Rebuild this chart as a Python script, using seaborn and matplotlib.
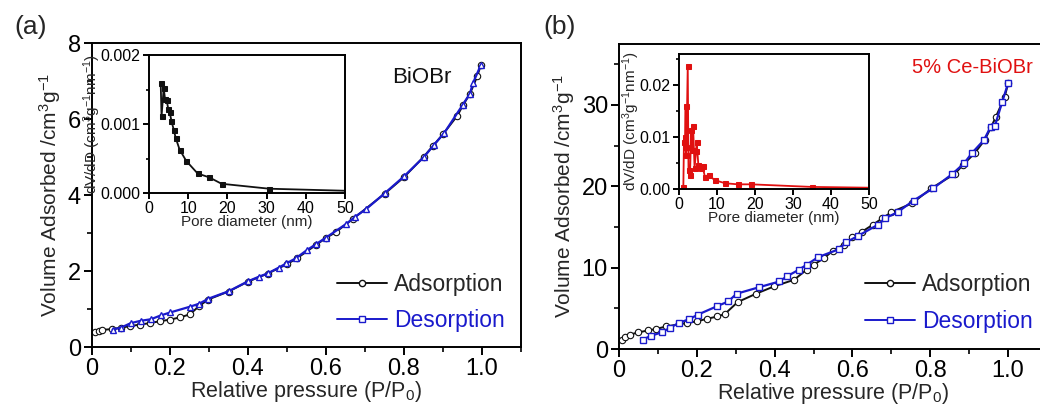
import matplotlib
matplotlib.use("Agg")
import matplotlib.pyplot as plt
from matplotlib.lines import Line2D
from matplotlib.ticker import MultipleLocator
import seaborn as sns

# ---- (a) BiOBr isotherm ----
a_ads_p = [0.008, 0.017, 0.025, 0.05, 0.075, 0.098, 0.123, 0.149, 0.175, 0.2, 0.226,
           0.251, 0.275, 0.298, 0.35, 0.4, 0.45, 0.5, 0.525, 0.575, 0.6, 0.625, 0.67,
           0.75, 0.8, 0.85, 0.875, 0.9, 0.937, 0.951, 0.969, 0.988, 0.997]
a_ads_v = [0.40, 0.43, 0.45, 0.47, 0.51, 0.55, 0.59, 0.63, 0.68, 0.72, 0.78,
           0.86, 1.08, 1.25, 1.46, 1.72, 1.93, 2.18, 2.33, 2.69, 2.87, 3.02, 3.38,
           4.03, 4.47, 5.00, 5.30, 5.60, 6.09, 6.36, 6.66, 7.13, 7.42]
a_des_p = [0.053, 0.074, 0.1, 0.125, 0.151, 0.176, 0.201, 0.251, 0.275, 0.298, 0.351,
           0.4, 0.428, 0.451, 0.479, 0.498, 0.522, 0.551, 0.575, 0.6, 0.652, 0.675,
           0.703, 0.751, 0.8, 0.852, 0.877, 0.903, 0.951, 0.969, 0.977, 0.997]
a_des_v = [0.46, 0.51, 0.63, 0.69, 0.73, 0.83, 0.91, 1.06, 1.14, 1.27, 1.47,
           1.73, 1.85, 1.94, 2.09, 2.20, 2.33, 2.55, 2.71, 2.88, 3.24, 3.43,
           3.63, 4.05, 4.49, 5.01, 5.32, 5.63, 6.38, 6.67, 6.95, 7.42]

# ---- (a) inset: pore size distribution ----
a_pore_d = [2.98, 3.2, 3.75, 4.1, 4.5, 4.9, 5.3, 5.7, 6.3, 6.8, 7.8, 9.5, 12.4,
            15.4, 18.5, 30.7]
a_pore_v = [0.00160, 0.00111, 0.00152, 0.00136, 0.00135, 0.00122, 0.00117, 0.00105,
            0.00092, 0.00080, 0.00063, 0.000465, 0.000283, 0.000226, 0.000134,
            0.000062]
a_tail_d = [30.7, 55.0]
a_tail_v = [0.000062, 0.000025]

# ---- (b) 5% Ce-BiOBr isotherm ----
b_ads_p = [0.007, 0.016, 0.027, 0.05, 0.075, 0.095, 0.122, 0.174, 0.2, 0.227, 0.253,
           0.272, 0.305, 0.352, 0.398, 0.45, 0.482, 0.5, 0.527, 0.55, 0.577, 0.6,
           0.625, 0.652, 0.677, 0.7, 0.754, 0.803, 0.863, 0.884, 0.914, 0.94,
           0.957, 0.968, 0.991, 1.0]
b_ads_v = [1.06, 1.47, 1.76, 2.04, 2.29, 2.46, 2.78, 3.19, 3.40, 3.72, 4.00,
           4.30, 5.77, 6.79, 7.69, 8.51, 9.74, 10.35, 11.17, 12.10, 12.80, 13.75,
           14.44, 15.27, 16.08, 16.82, 17.93, 19.77, 21.53, 22.63, 24.07, 25.70,
           27.34, 28.49, 30.95, 32.67]
b_des_p = [0.061, 0.082, 0.11, 0.13, 0.153, 0.181, 0.202, 0.251, 0.281, 0.302, 0.361,
           0.412, 0.431, 0.462, 0.482, 0.512, 0.566, 0.583, 0.615, 0.665, 0.684,
           0.716, 0.757, 0.808, 0.857, 0.887, 0.908, 0.938, 0.955, 0.966, 0.985, 1.0]
b_des_v = [1.14, 1.63, 2.04, 2.58, 3.19, 3.68, 4.21, 5.24, 5.85, 6.79, 7.61,
           8.30, 8.92, 9.74, 10.35, 11.30, 12.28, 13.10, 13.92, 15.27, 16.08,
           16.82, 18.25, 19.77, 21.53, 22.84, 24.14, 25.70, 27.30, 27.42, 30.40, 32.67]

# ---- (b) inset: pore size distribution ----
b_pore_d = [1.14, 1.3, 1.6, 1.75, 1.85, 1.95, 2.3, 2.5, 2.9, 3.2, 3.4, 3.7, 4.1,
            4.5, 4.65, 5.1, 5.7, 6.2, 6.8, 7.8, 9.4, 12.2, 15.5, 19.0, 34.9]
b_pore_v = [0.0003, 0.0090, 0.0100, 0.0160, 0.0065, 0.0081, 0.0237, 0.0036, 0.0027,
            0.0113, 0.0075, 0.0122, 0.0040, 0.0074, 0.0090, 0.0046, 0.0040, 0.0044,
            0.0024, 0.0027, 0.0017, 0.0011, 0.0009, 0.0009, 0.0004]
b_tail_d = [34.9, 55.0]
b_tail_v = [0.0004, 0.0002]

BLACK = "#111111"
BLUE = "#1a1acc"
RED = "#e01010"

sns.set_theme(style="ticks")
plt.rcParams["font.family"] = ["Liberation Sans", "DejaVu Sans"]
plt.rcParams["mathtext.fontset"] = "custom"
plt.rcParams["mathtext.rm"] = "Liberation Sans"
plt.rcParams["mathtext.it"] = "Liberation Sans"
plt.rcParams["axes.linewidth"] = 1.4
plt.rcParams["xtick.major.width"] = 1.4
plt.rcParams["ytick.major.width"] = 1.4
plt.rcParams["xtick.minor.width"] = 1.2
plt.rcParams["ytick.minor.width"] = 1.2

fig = plt.figure(figsize=(10.4, 4.08), dpi=100)
fig.patch.set_facecolor("white")


def style_axes(ax, labelsize, major_len, minor_len):
    for s in ax.spines.values():
        s.set_color("black")
    ax.tick_params(which="both", direction="out", top=False, right=False,
                   colors="black", labelsize=labelsize, pad=2)
    ax.tick_params(which="major", length=major_len)
    ax.tick_params(which="minor", length=minor_len)
    ax.set_facecolor("white")


def isotherm(ax, ads_p, ads_v, des_p, des_v, des_marker, ylim, ymaj, ymin_):
    sns.lineplot(x=ads_p, y=ads_v, ax=ax, sort=False, estimator=None, color=BLACK,
                 linewidth=1.4, marker="o", markersize=4.6, markerfacecolor="white",
                 markeredgecolor=BLACK, markeredgewidth=0.8, legend=False)
    sns.lineplot(x=des_p, y=des_v, ax=ax, sort=False, estimator=None, color=BLUE,
                 linewidth=1.6, marker=des_marker, markersize=4.6,
                 markerfacecolor="white", markeredgecolor=BLUE,
                 markeredgewidth=1.0, legend=False)
    ax.set_xlim(0, 1.1)
    ax.set_ylim(*ylim)
    ax.xaxis.set_major_locator(MultipleLocator(0.2))
    ax.xaxis.set_minor_locator(MultipleLocator(0.1))
    ax.yaxis.set_major_locator(MultipleLocator(ymaj))
    ax.yaxis.set_minor_locator(MultipleLocator(ymin_))
    ax.set_xticks([0, 0.2, 0.4, 0.6, 0.8, 1.0])
    ax.set_xticklabels(["0", "0.2", "0.4", "0.6", "0.8", "1.0"])
    style_axes(ax, 17, 6, 3.5)
    ax.set_xlabel("Relative pressure (P/P$_0$)", fontsize=15.5, labelpad=-1)
    ax.set_ylabel("Volume Adsorbed /cm$^3$g$^{-1}$", fontsize=15, labelpad=3)
    handles = [
        Line2D([], [], color=BLACK, lw=1.4, marker="o", markersize=4.5,
               markerfacecolor="white", markeredgecolor=BLACK),
        Line2D([], [], color=BLUE, lw=1.4, marker="s", markersize=4,
               markerfacecolor="white", markeredgecolor=BLUE),
    ]
    leg = ax.legend(handles, ["Adsorption", "Desorption"], loc="lower right",
                    frameon=False, fontsize=16.5, handlelength=2.2, handletextpad=0.3,
                    labelspacing=0.6, borderaxespad=0.3)
    leg.get_texts()[1].set_color(BLUE)
    return leg


def inset(ax, d, v, tail_d, tail_v, color, ylim, ymaj, ymin_, fmt):
    sns.lineplot(x=d, y=v, ax=ax, sort=False, estimator=None, color=color,
                 linewidth=1.3, marker="s", markersize=3.6, markeredgecolor=color,
                 markerfacecolor=color, legend=False)
    sns.lineplot(x=tail_d, y=tail_v, ax=ax, sort=False, estimator=None, color=color,
                 linewidth=1.3, legend=False)
    ax.set_xlim(0, 50)
    ax.set_ylim(*ylim)
    ax.xaxis.set_major_locator(MultipleLocator(10))
    ax.yaxis.set_major_locator(MultipleLocator(ymaj))
    ax.yaxis.set_minor_locator(MultipleLocator(ymin_))
    ax.yaxis.set_major_formatter(plt.FormatStrFormatter(fmt))
    style_axes(ax, 11.5, 4, 2.5)
    ax.set_xlabel("Pore diameter (nm)", fontsize=11, labelpad=-1)
    ax.set_ylabel("dV/dD (cm$^3$g$^{-1}$nm$^{-1}$)", fontsize=11, labelpad=-2)


# ---- panel (a) ----
ax_a = fig.add_axes([92 / 1040, 61 / 408, 429 / 1040, 304 / 408])
leg_a = isotherm(ax_a, a_ads_p, a_ads_v, a_des_p, a_des_v, "^", (0, 8), 2, 1)
leg_a.set_bbox_to_anchor((1.0, -0.005))
ax_a.text(0.70, 0.885, "BiOBr", transform=ax_a.transAxes, fontsize=16,
          color=BLACK, ha="left", va="center")
ins_a = fig.add_axes([149 / 1040, 215 / 408, 196 / 1040, 138 / 408])
inset(ins_a, a_pore_d, a_pore_v, a_tail_d, a_tail_v, BLACK, (0, 0.002),
      0.001, 0.0005, "%.3f")

# ---- panel (b) ----
ax_b = fig.add_axes([619 / 1040, 59 / 408, 428 / 1040, 305 / 408])
leg_b = isotherm(ax_b, b_ads_p, b_ads_v, b_des_p, b_des_v, "s", (0, 37.5), 10, 5)
leg_b.set_bbox_to_anchor((1.005, 0.0))
ax_b.text(0.685, 0.922, "5% Ce-BiOBr", transform=ax_b.transAxes, fontsize=14.5,
          color=RED, ha="left", va="center")
ins_b = fig.add_axes([679 / 1040, 219 / 408, 190 / 1040, 135 / 408])
inset(ins_b, b_pore_d, b_pore_v, b_tail_d, b_tail_v, RED, (0, 0.026),
      0.01, 0.005, "%.2f")

fig.text(14 / 1040, 1 - 27 / 408, "(a)", fontsize=19, ha="left", va="center")
fig.text(543 / 1040, 1 - 27 / 408, "(b)", fontsize=19, ha="left", va="center")

fig.savefig("out.png", dpi=100, facecolor="white")
